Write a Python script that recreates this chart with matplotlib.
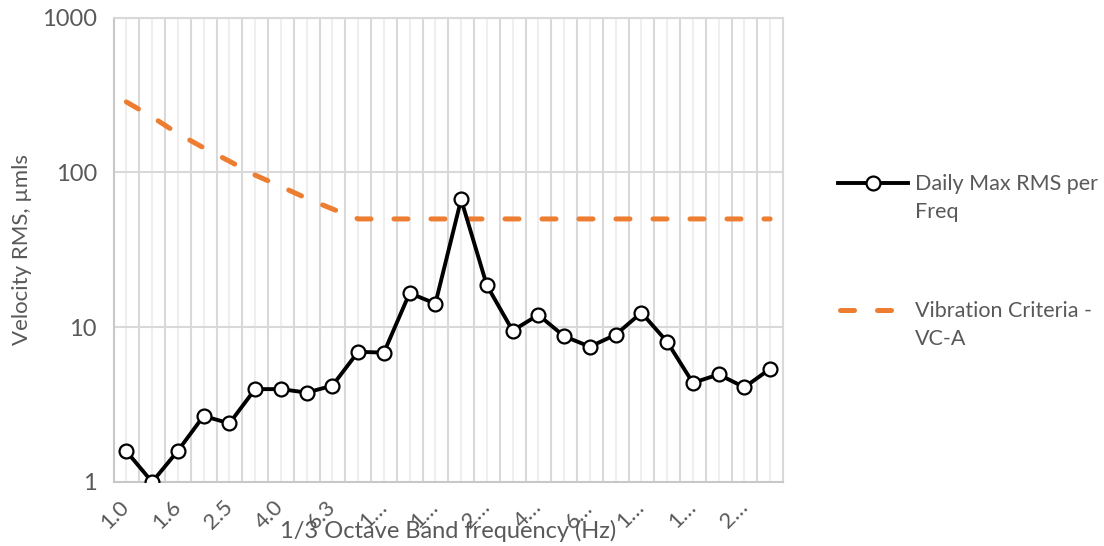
import matplotlib
matplotlib.use("Agg")
import matplotlib.pyplot as plt
from matplotlib.lines import Line2D
from matplotlib.ticker import FixedLocator, NullLocator

plt.rcParams['font.family'] = ['Lato', 'DejaVu Sans']

# 1/3 octave band centre frequencies (Hz)
bands = ["1.0", "1.25", "1.6", "2.0", "2.5", "3.15", "4.0", "5.0", "6.3", "8.0",
         "10", "12.5", "16", "20", "25", "31.5", "40", "50", "63", "80",
         "100", "125", "160", "200", "250", "315"]
# displayed (truncated) tick labels, every other band
tick_labels = ["1.0", "1.6", "2.5", "4.0", "6.3", "1…", "1…", "2…", "4…", "6…",
               "1…", "1…", "2…"]

daily_max = [1.58, 1.0, 1.59, 2.67, 2.39, 3.98, 3.98, 3.78, 4.19, 6.93,
             6.85, 16.6, 14.2, 66.8, 18.6, 9.5, 12.0, 8.74, 7.48, 8.93,
             12.4, 8.05, 4.37, 4.95, 4.09, 5.38]
vc_a = [285, 228, 178, 144, 118, 96, 81, 68, 58, 50,
        50, 50, 50, 50, 50, 50, 50, 50, 50, 50,
        50, 50, 50, 50, 50, 50]

TXT = "#595959"
GRID = "#d9d9d9"
ORANGE = "#ED7D31"
DASH = (2.8, 4.6)

fig = plt.figure(figsize=(11.04, 5.46), dpi=100)
ax = fig.add_axes([113.5 / 1104, 1 - 482 / 546, (783 - 113.5) / 1104, (482 - 17.5) / 546])

x = list(range(len(bands)))
ax.plot(x, vc_a, color=ORANGE, lw=3.6, dashes=DASH, dash_capstyle='round',
        solid_capstyle='round', zorder=3)
ax.plot(x, daily_max, color="black", lw=2.8, marker='o', markersize=10,
        markerfacecolor='white', markeredgecolor='black', markeredgewidth=1.6,
        solid_joinstyle='round', zorder=4)

ax.set_yscale('log')
ax.set_ylim(1, 1000)
ax.set_xlim(-0.5, len(bands) - 0.5)

ax.yaxis.set_major_locator(FixedLocator([1, 10, 100, 1000]))
ax.yaxis.set_minor_locator(NullLocator())
ax.set_yticklabels(["1", "10", "100", "1000"])

# vertical grid: major at category boundaries, minor at centres
for b in range(1, len(bands)):
    ax.axvline(b - 0.5, color=GRID, lw=1.5, zorder=1)
for c in x:
    ax.axvline(c, color="#efefef", lw=1.5, zorder=0.9)
for v in [10, 100, 1000]:
    ax.axhline(v, color=GRID, lw=1.5, zorder=1)

ax.set_xticks(x[::2])
ax.set_xticklabels(tick_labels, rotation=45, rotation_mode='anchor',
                   ha='right', va='center')
ax.tick_params(axis='both', length=0, colors=TXT)
ax.tick_params(axis='x', pad=16, labelsize=16)
ax.tick_params(axis='y', pad=12, labelsize=17)
for lab in ax.get_xticklabels():
    lab.set_color(TXT)

for s in ['left', 'bottom', 'right', 'top']:
    ax.spines[s].set_color(GRID)
    ax.spines[s].set_linewidth(1.5)
ax.spines['bottom'].set_color("#c8c8c8")
ax.spines['left'].set_color("#c8c8c8")

ax.set_xlabel("1/3 Octave Band frequency (Hz)", fontsize=17, color=TXT)
ax.xaxis.set_label_coords(0.5, -0.105)
ax.xaxis.label.set_va('center')
ax.set_ylabel("Velocity RMS, µmls", fontsize=16, color=TXT)
ax.yaxis.set_label_coords(-0.137, 0.5)
ax.yaxis.label.set_va('center')

# legend (drawn at right, handle aligned with first text line)
def fx(px):
    return px / 1104
def fy(py):
    return 1 - py / 546

fig.add_artist(Line2D([fx(838), fx(908)], [fy(183), fy(183)], color='black', lw=2.8,
                      transform=fig.transFigure))
fig.add_artist(Line2D([fx(873)], [fy(183)], marker='o', markersize=10,
                      markerfacecolor='white', markeredgecolor='black',
                      markeredgewidth=1.6, transform=fig.transFigure))
fig.text(fx(915), fy(198), "Daily Max RMS per\nFreq", fontsize=15.5, color=TXT,
         va='center', ha='left', linespacing=1.55)
fig.add_artist(Line2D([fx(840), fx(898)], [fy(310), fy(310)], color=ORANGE, lw=3.6,
                      dashes=DASH, dash_capstyle='round', transform=fig.transFigure))
fig.text(fx(915), fy(325), "Vibration Criteria -\nVC-A", fontsize=15.5, color=TXT,
         va='center', ha='left', linespacing=1.55)

fig.savefig("out.png", dpi=100)
